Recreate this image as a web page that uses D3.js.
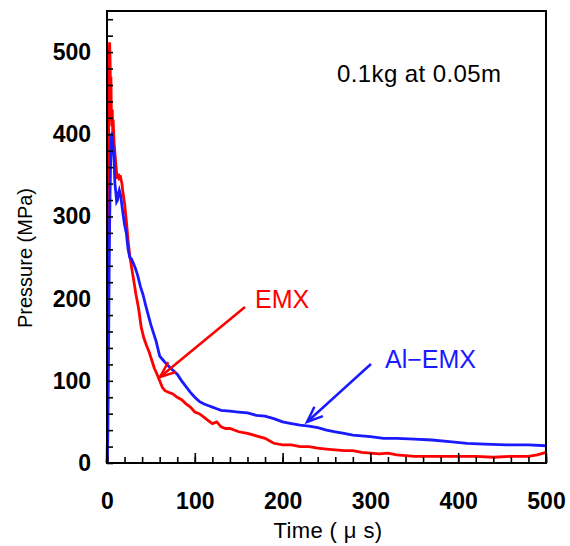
<!DOCTYPE html>
<html>
<head>
<meta charset="utf-8">
<script src="https://cdn.jsdelivr.net/npm/d3@7"></script>
<style>
  body { margin: 0; background: #fff; }
  svg text { font-family: "Liberation Sans", Arial, sans-serif; }
</style>
</head>
<body>
<svg id="chart" width="570" height="546"></svg>
<script>
// EMX (red)
const emxTime = [0, 0.5, 1, 1.5, 2, 2.5, 3, 3.5, 4, 4.5, 5, 5.5, 6, 6.5, 7, 8, 9, 10, 11, 12, 13, 14, 15, 16, 17, 18, 20, 22, 24, 26, 28, 30, 33, 36, 39, 42, 45, 48, 51, 54, 57, 60, 63, 66, 70, 75, 80, 85, 90, 95, 100, 105, 110, 115, 120, 125, 130, 135, 140, 150, 160, 170, 180, 190, 200, 210, 220, 230, 240, 250, 260, 270, 280, 290, 300, 310, 320, 330, 340, 350, 360, 380, 400, 420, 440, 460, 480, 490, 500];
const emxPressure = [0, 30, 120, 300, 440, 500, 512, 490, 450, 470, 420, 410, 430, 400, 418, 390, 378, 365, 352, 346, 352, 344, 350, 345, 340, 330, 316, 295, 271, 252, 238, 225, 205, 188, 165, 152, 143, 135, 125, 115, 108, 100, 92, 88, 86, 84, 80, 77, 72, 68, 62, 60, 56, 52, 48, 50, 44, 42, 42, 38, 36, 33, 30, 24, 22, 22, 20, 20, 18, 17, 16, 15, 15, 13, 12, 11, 12, 10, 9, 8, 8, 8, 8, 8, 7, 8, 8, 10, 13];

// Al-EMX (blue)
const alTime = [0, 0.5, 1, 1.5, 2, 2.5, 3, 3.5, 4, 4.5, 5, 5.5, 6, 7, 8, 9, 10, 11, 12, 13, 14, 15, 16, 18, 20, 22, 24, 26, 28, 30, 32, 35, 38, 41, 44, 47, 50, 53, 56, 60, 64, 68, 72, 76, 80, 85, 90, 95, 100, 105, 110, 115, 120, 125, 130, 140, 150, 160, 170, 180, 190, 200, 210, 220, 230, 240, 250, 260, 270, 280, 290, 300, 315, 330, 350, 370, 390, 410, 430, 455, 480, 500];
const alPressure = [0, 5, 40, 100, 170, 240, 290, 330, 360, 380, 395, 402, 395, 385, 370, 340, 330, 318, 320, 328, 332, 328, 322, 305, 290, 280, 260, 250, 248, 243, 238, 228, 215, 205, 192, 180, 168, 158, 148, 130, 125, 120, 116, 112, 108, 100, 93, 86, 80, 75, 72, 70, 68, 66, 64, 63, 62, 61, 58, 57, 54, 50, 48, 46, 45, 43, 40, 38, 36, 34, 33, 32, 30, 30, 29, 28, 26, 24, 23, 22, 22, 21];

const xMinorTicks = d3.range(0, 501, 20);
const xLabelTicks = [0, 100, 200, 300, 400, 500];
const yMinorTicks = d3.range(0, 551, 20);
const yLabelTicks = [0, 100, 200, 300, 400, 500];

const svg = d3.select("#chart");
const mLeft = 107, mTop = 11, mRight = 546, mBottom = 463;

const x = d3.scaleLinear().domain([0, 500]).range([mLeft, mRight]);
const y = d3.scaleLinear().domain([0, 550]).range([mBottom, mTop]);

// curves
const line = d3.line()
    .x(d => x(d[0]))
    .y(d => y(d[1]));

svg.append("path")
    .datum(d3.zip(emxTime, emxPressure))
    .attr("d", line)
    .attr("fill", "none")
    .attr("stroke", "#ff0000")
    .attr("stroke-width", 2.8);

svg.append("path")
    .datum(d3.zip(alTime, alPressure))
    .attr("d", line)
    .attr("fill", "none")
    .attr("stroke", "#1a1aff")
    .attr("stroke-width", 2.8);

// axes (ticks inside)
svg.append("g")
    .attr("transform", `translate(0,${mBottom})`)
    .call(d3.axisBottom(x).tickValues(xMinorTicks).tickSize(-6).tickFormat(""))
    .call(g => g.select(".domain").remove());
svg.append("g")
    .attr("transform", `translate(0,${mBottom})`)
    .call(d3.axisBottom(x).tickValues(xLabelTicks).tickSize(-10).tickPadding(30).tickFormat(d3.format("d")))
    .call(g => g.select(".domain").remove())
    .selectAll("text")
    .attr("font-size", 23).attr("font-weight", "bold").attr("fill", "#000")
    .attr("font-family", "Liberation Sans, Arial, sans-serif");

svg.append("g")
    .attr("transform", `translate(${mLeft},0)`)
    .call(d3.axisLeft(y).tickValues(yMinorTicks).tickSize(-6).tickFormat(""))
    .call(g => g.select(".domain").remove());
svg.append("g")
    .attr("transform", `translate(${mLeft},0)`)
    .call(d3.axisLeft(y).tickValues(yLabelTicks).tickSize(0).tickPadding(16).tickFormat(d3.format("d")))
    .call(g => g.select(".domain").remove())
    .selectAll("text")
    .attr("font-size", 23).attr("font-weight", "bold").attr("fill", "#000")
    .attr("font-family", "Liberation Sans, Arial, sans-serif");

svg.selectAll(".tick line").attr("stroke", "#000").attr("stroke-width", 1.6);

// frame
svg.append("rect")
    .attr("x", mLeft).attr("y", mTop)
    .attr("width", mRight - mLeft).attr("height", mBottom - mTop)
    .attr("fill", "none").attr("stroke", "#000").attr("stroke-width", 2);

// axis titles
svg.append("text")
    .attr("transform", `translate(32,258) rotate(-90)`)
    .attr("text-anchor", "middle")
    .attr("font-size", 20)
    .text("Pressure (MPa)");

svg.append("text")
    .attr("x", 328).attr("y", 538)
    .attr("text-anchor", "middle")
    .attr("font-size", 22)
    .attr("letter-spacing", 0.4)
    .attr("font-family", "Noto Sans CJK JP, sans-serif")
    .text("Time ( μ s)");

svg.append("text")
    .attr("x", 337).attr("y", 82)
    .attr("font-size", 24)
    .attr("letter-spacing", 0.4)
    .attr("font-family", "Noto Sans CJK JP, sans-serif")
    .text("0.1kg at 0.05m");

// annotations with arrows
function arrow(x1, y1, x2, y2, color) {
    const a = Math.atan2(y1 - y2, x1 - x2), len = 17, spread = 0.38;
    svg.append("line")
        .attr("x1", x1).attr("y1", y1).attr("x2", x2).attr("y2", y2)
        .attr("stroke", color).attr("stroke-width", 2.5);
    svg.append("path")
        .attr("d", d3.line()([
            [x2 + len * Math.cos(a - spread), y2 + len * Math.sin(a - spread)],
            [x2, y2],
            [x2 + len * Math.cos(a + spread), y2 + len * Math.sin(a + spread)]
        ]))
        .attr("fill", "none").attr("stroke", color).attr("stroke-width", 2.5);
}

arrow(245, 307, 160, 377, "#ff0000");
svg.append("text")
    .attr("x", 255).attr("y", 308)
    .attr("font-size", 25).attr("fill", "#ff0000")
    .text("EMX");

arrow(371, 364, 307, 422, "#1a1aff");
svg.append("text")
    .attr("x", 385).attr("y", 368)
    .attr("font-size", 25).attr("fill", "#1a1aff")
    .text("Al−EMX");
</script>
</body>
</html>
